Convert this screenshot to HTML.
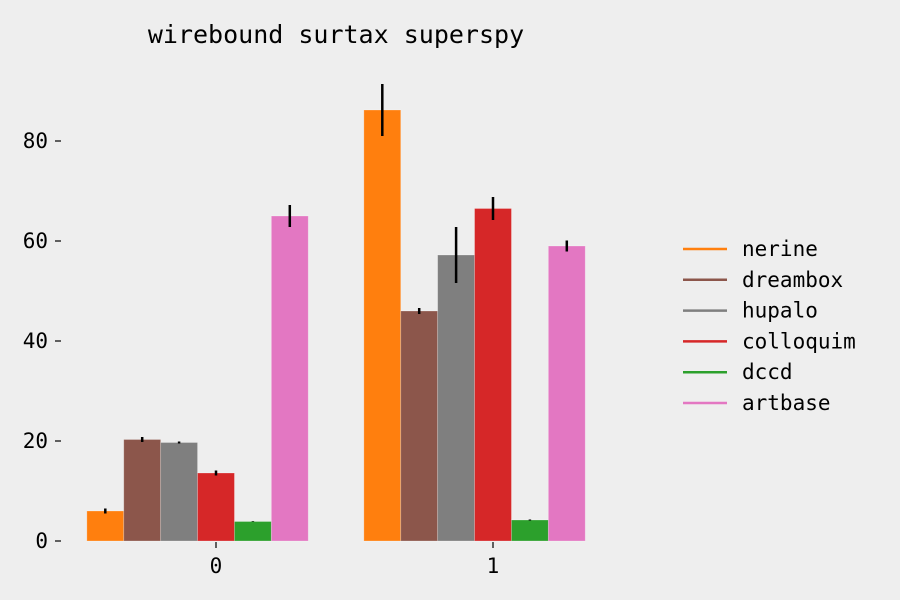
<!DOCTYPE html>
<html><head><meta charset="utf-8">
<style>
html,body{margin:0;padding:0;background:#eeeeee;}
svg{display:block;font-family:"DejaVu Sans Mono","Liberation Mono",monospace;}
</style></head>
<body>
<svg id="chart" width="900" height="600" viewBox="0 0 900 600">
<rect width="900" height="600" fill="#eeeeee"/>
<text x="336" y="43" font-size="25" text-anchor="middle" fill="#000">wirebound surtax superspy</text>
<g id="bars"></g>
<g id="yaxis"></g>
<g id="xaxis"></g>
<g id="legend"></g>
</svg>
<script>
const categories = ["0", "1"];
const seriesNames = ["nerine", "dreambox", "hupalo", "colloquim", "dccd", "artbase"];
const seriesColors = ["#ff7f0e", "#8c564b", "#7f7f7f", "#d62728", "#2ca02c", "#e377c2"];
const values0 = [6.0, 20.3, 19.7, 13.6, 3.9, 65.0];
const values1 = [86.2, 46.0, 57.2, 66.5, 4.2, 59.0];
const errors0 = [0.5, 0.5, 0.2, 0.5, 0.0, 2.2];
const errors1 = [5.2, 0.6, 5.6, 2.3, 0.1, 1.1];
const yTicks = [0, 20, 40, 60, 80];

const NS = "http://www.w3.org/2000/svg";
const values = [values0, values1];
const errors = [errors0, errors1];
function y(v){ return 541 - v * 5; }
function xTick(i){ return 216 + i * 277; }
const bw = 36.9;
function xBar(i, s){ return xTick(i) + (s - 3.5) * bw; }
function mk(tag, attrs, parent){
  const e = document.createElementNS(NS, tag);
  for (const k in attrs) e.setAttribute(k, attrs[k]);
  parent.appendChild(e);
  return e;
}
const bars = document.getElementById("bars");
categories.forEach((c, i) => {
  seriesNames.forEach((n, s) => {
    const v = values[i][s];
    const r = mk("rect", {x: xBar(i, s), y: y(v), width: bw, height: y(0) - y(v), fill: seriesColors[s], stroke: "rgba(255,255,255,0.3)", "stroke-width": 0.8}, bars);
    
    
    const e = errors[i][s];
    const cx = xBar(i, s) + bw / 2;
    const l = mk("line", {x1: cx, x2: cx, y1: y(v - e), y2: y(v + e) - (e === 0 ? 0.5 : 0), stroke: "#000", "stroke-width": 2.5}, bars);
    
    
  });
});
const ya = document.getElementById("yaxis");
yTicks.forEach(t => {
  const tl = mk("line", {x1: 55, x2: 61, y1: y(t), y2: y(t), stroke: "#000", "stroke-width": 1.2}, ya);
  
  
  const tx = mk("text", {x: 48, y: y(t) + 7, "font-size": 21, "text-anchor": "end", fill: "#000"}, ya);
  tx.textContent = t;
  
  
});
const xa = document.getElementById("xaxis");
categories.forEach((c, i) => {
  const tl = mk("line", {x1: xTick(i), x2: xTick(i), y1: 562 - 20, y2: 562 - 14, stroke: "#000", "stroke-width": 1.2}, xa);
  
  
  const tx = mk("text", {x: xTick(i), y: 573, "font-size": 21, "text-anchor": "middle", fill: "#000"}, xa);
  tx.textContent = c;
  
  
});
const lg = document.getElementById("legend");
seriesNames.forEach((n, s) => {
  const ly = 249 + s * 30.8;
  const g = mk("g", {}, lg);
  
  
  mk("line", {x1: 683, x2: 727, y1: ly, y2: ly, stroke: seriesColors[s], "stroke-width": 2.5}, g);
  const t = mk("text", {x: 742, y: ly + 7, "font-size": 21, fill: "#000"}, g);
  t.textContent = n;
});
</script>
</body></html>
